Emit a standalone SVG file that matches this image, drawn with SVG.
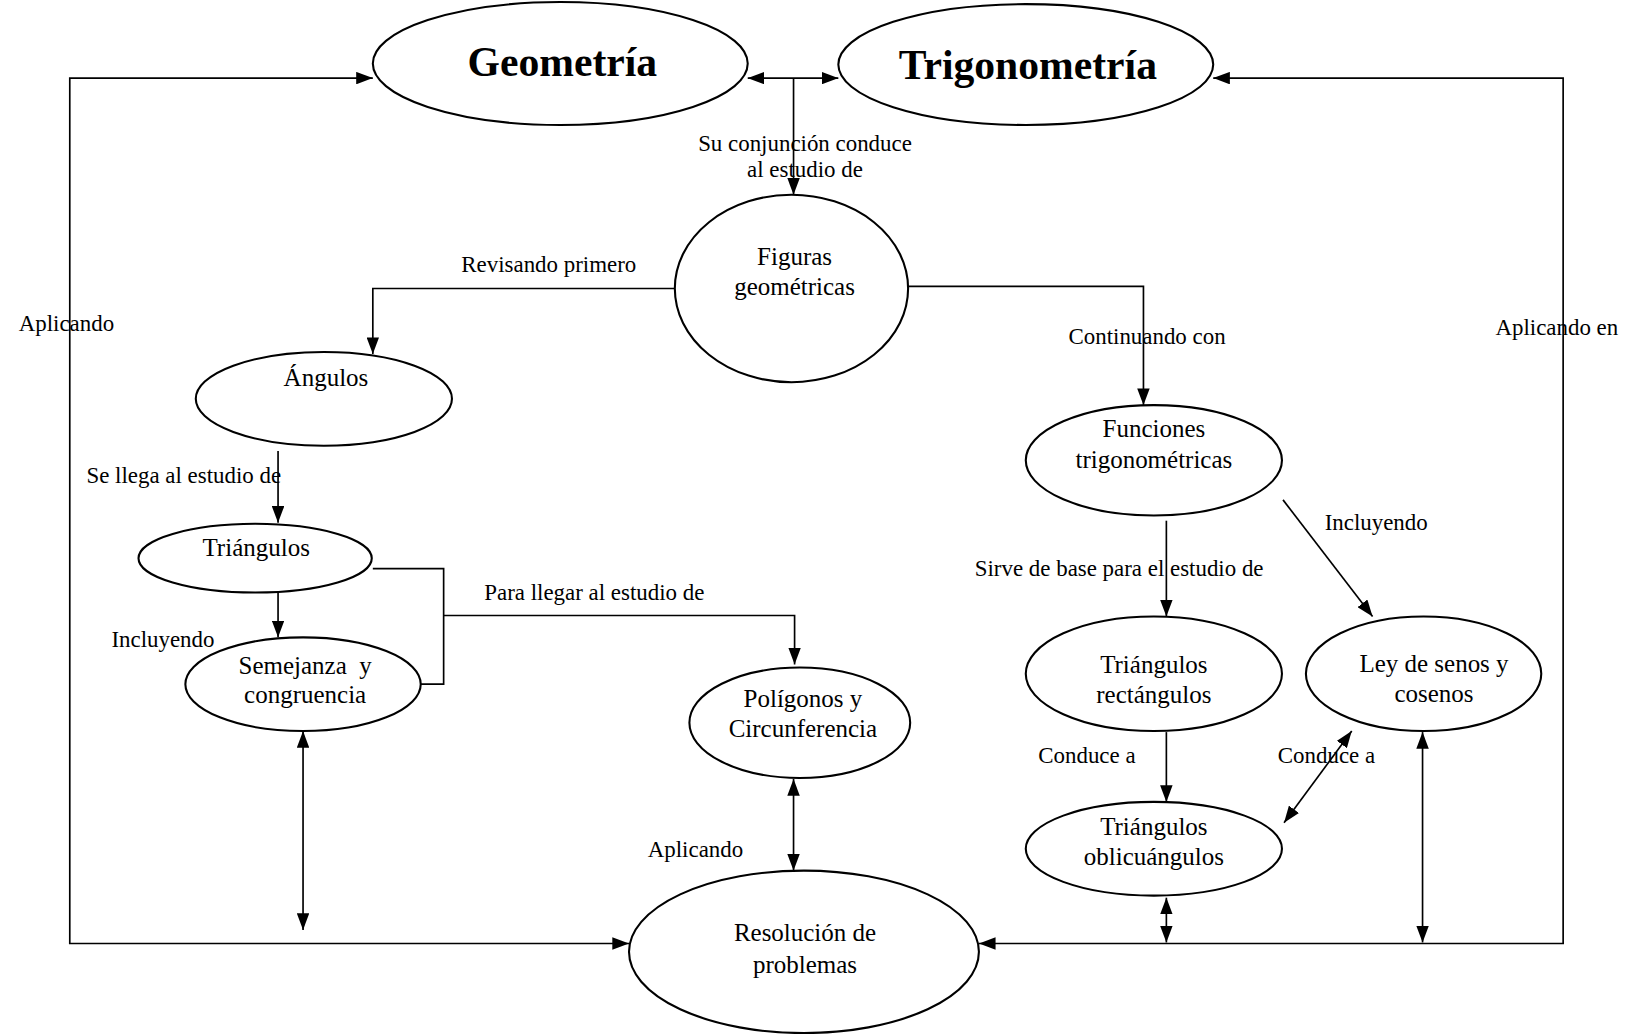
<svg xmlns="http://www.w3.org/2000/svg" width="1633" height="1034" viewBox="0 0 1633 1034">
<style>
.n{fill:#fff;stroke:#000;stroke-width:2}
.c{fill:none;stroke:#000;stroke-width:1.6}
.t{font-family:"Liberation Serif","Times New Roman",serif;font-size:24px;text-anchor:middle;fill:#000}
.h{font-family:"Liberation Serif","Times New Roman",serif;font-size:40px;font-weight:bold;text-anchor:middle;fill:#000}
.l{font-family:"Liberation Serif","Times New Roman",serif;font-size:22px;fill:#000}
</style>
<defs>
<marker id="ar" markerUnits="userSpaceOnUse" markerWidth="16" markerHeight="12" refX="16" refY="6" orient="auto-start-reverse"><path d="M0,0 L16,6 L0,12 z" fill="#000"/></marker>
</defs>
<rect width="1633" height="1034" fill="#fff"/>
<g transform="scale(1.0414)">
<g id="connectors">
<path class="c" d="M718,75 H805" marker-start="url(#ar)" marker-end="url(#ar)"/>
<path class="c" d="M762,75 V187" marker-end="url(#ar)"/>
<path class="c" d="M648,277 H358 V340" marker-end="url(#ar)"/>
<path class="c" d="M267,433 V502" marker-end="url(#ar)"/>
<path class="c" d="M267,568 V612" marker-end="url(#ar)"/>
<path class="c" d="M358,546 H426 V657 H404"/>
<path class="c" d="M426,591 H763 V638" marker-end="url(#ar)"/>
<path class="c" d="M762,748 V836" marker-start="url(#ar)" marker-end="url(#ar)"/>
<path class="c" d="M291,702 V893" marker-start="url(#ar)" marker-end="url(#ar)"/>
<path class="c" stroke-width="2" d="M358,75 H67 V906 H604" marker-start="url(#ar)" marker-end="url(#ar)"/>
<path class="c" stroke-width="2" d="M1165,75 H1501 V906 H940" marker-start="url(#ar)" marker-end="url(#ar)"/>
<path class="c" d="M872,275 H1098 V389" marker-end="url(#ar)"/>
<path class="c" d="M1120,500 V592" marker-end="url(#ar)"/>
<path class="c" d="M1232,480 L1318,592" marker-end="url(#ar)"/>
<path class="c" d="M1120,703 V770" marker-end="url(#ar)"/>
<path class="c" d="M1233,790 L1298,702" marker-start="url(#ar)" marker-end="url(#ar)"/>
<path class="c" d="M1120,862 V905" marker-start="url(#ar)" marker-end="url(#ar)"/>
<path class="c" d="M1366,703 V905" marker-start="url(#ar)" marker-end="url(#ar)"/>
</g>
<g id="geometria"><ellipse class="n" cx="538" cy="61" rx="180" ry="59"/><text class="h" x="540" y="73">Geometría</text></g>
<g id="trigonometria"><ellipse class="n" cx="985" cy="62" rx="180" ry="58"/><text class="h" x="987" y="76">Trigonometría</text></g>
<g id="figuras"><ellipse class="n" cx="760" cy="277" rx="112" ry="90"/><text class="t" x="763" y="254">Figuras</text><text class="t" x="763" y="283">geométricas</text></g>
<g id="angulos"><ellipse class="n" cx="311" cy="383" rx="123" ry="45"/><text class="t" x="313" y="371">Ángulos</text></g>
<g id="triangulos"><ellipse class="n" cx="245" cy="536" rx="112" ry="33"/><text class="t" x="246" y="534">Triángulos</text></g>
<g id="semejanza"><ellipse class="n" cx="291" cy="657" rx="113" ry="45"/><text class="t" x="293" y="647" style="white-space:pre">Semejanza  y</text><text class="t" x="293" y="675">congruencia</text></g>
<g id="poligonos"><ellipse class="n" cx="768" cy="694" rx="106" ry="53"/><text class="t" x="771" y="679">Polígonos y</text><text class="t" x="771" y="708">Circunferencia</text></g>
<g id="resolucion"><ellipse class="n" cx="772" cy="914" rx="168" ry="78"/><text class="t" x="773" y="904">Resolución de</text><text class="t" x="773" y="934">problemas</text></g>
<g id="funciones"><ellipse class="n" cx="1108" cy="442" rx="123" ry="53"/><text class="t" x="1108" y="420">Funciones</text><text class="t" x="1108" y="449">trigonométricas</text></g>
<g id="rectangulos"><ellipse class="n" cx="1108" cy="647" rx="123" ry="55"/><text class="t" x="1108" y="646">Triángulos</text><text class="t" x="1108" y="675">rectángulos</text></g>
<g id="ley"><ellipse class="n" cx="1367" cy="647" rx="113" ry="55"/><text class="t" x="1377" y="645">Ley de senos y</text><text class="t" x="1377" y="674">cosenos</text></g>
<g id="oblicuangulos"><ellipse class="n" cx="1108" cy="815" rx="123" ry="45"/><text class="t" x="1108" y="802">Triángulos</text><text class="t" x="1108" y="831">oblicuángulos</text></g>
<g id="labels">
<text class="l" x="773" y="145" text-anchor="middle">Su conjunción conduce</text>
<text class="l" x="773" y="170" text-anchor="middle">al estudio de</text>
<text class="l" x="443" y="261">Revisando primero</text>
<text class="l" x="18" y="318">Aplicando</text>
<text class="l" x="83" y="464">Se llega al estudio de</text>
<text class="l" x="107" y="621">Incluyendo</text>
<text class="l" x="465" y="576">Para llegar al estudio de</text>
<text class="l" x="622" y="823">Aplicando</text>
<text class="l" x="1026" y="330">Continuando con</text>
<text class="l" x="1436" y="322">Aplicando en</text>
<text class="l" x="936" y="553">Sirve de base para el estudio de</text>
<text class="l" x="1272" y="509">Incluyendo</text>
<text class="l" x="997" y="733">Conduce a</text>
<text class="l" x="1227" y="733">Conduce a</text>
</g>
</g>
</svg>
